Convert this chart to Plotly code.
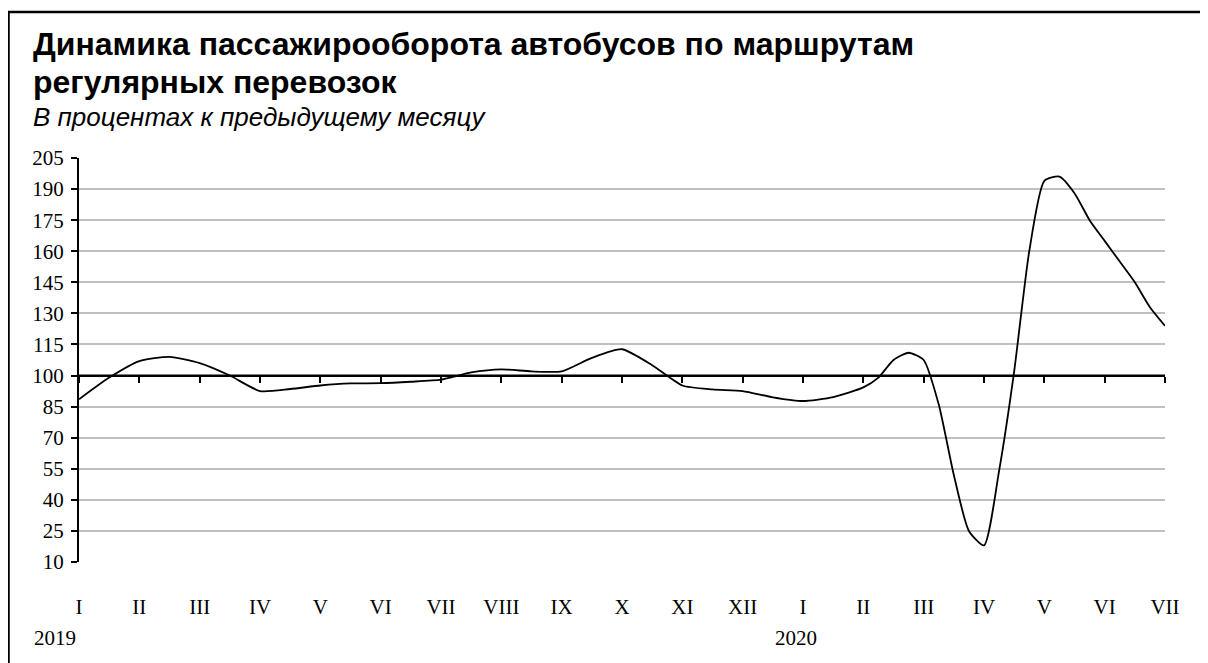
import plotly.graph_objects as go

# month index positions (0 = I 2019 ... 18 = VII 2020) and values, % to previous month
month_pos = [0, 0.5, 1, 1.5, 2, 2.5, 3, 3.5, 4, 4.5, 5, 5.5, 6, 6.5, 7, 7.5, 8, 8.5, 9,
             9.5, 10, 10.5, 11, 11.5, 12, 12.5, 13, 13.25, 13.5, 13.75, 14, 14.25, 14.5,
             14.75, 15, 15.25, 15.5, 15.75, 16, 16.25, 16.5, 16.75, 17, 17.25, 17.5, 17.75, 18]
values = [88.5, 99, 107, 109, 106, 100, 92.5, 93.5, 95.2, 96.2, 96.3, 97, 98, 101.5, 103, 102, 102, 108.5, 112.7,
          105, 95.2, 93.3, 92.5, 89.5, 87.7, 89.6, 94.3, 99, 107.5, 111, 107.5, 86, 52,
          25, 18, 54, 102, 160, 194, 196, 188, 175, 165, 155, 145, 133, 124]

tick_pos = list(range(19))
tick_labels = ["I", "II", "III", "IV", "V", "VI", "VII", "VIII", "IX", "X", "XI", "XII",
               "I", "II", "III", "IV", "V", "VI", "VII"]
years = ["2019", "2020"]
y_ticks = list(range(10, 206, 15))

title_lines = ["Динамика пассажирооборота автобусов по маршрутам", "регулярных перевозок"]
subtitle = "В процентах к предыдущему месяцу"

W, H = 1200, 655
L, R, T, B = 71, 43, 150, 101
pw, ph = W - L - R, H - T - B

def px_x(p):
    return (p - L) / pw

def px_y(p):
    return (H - B - p) / ph

fig = go.Figure()
fig.add_trace(go.Scatter(x=month_pos, y=values, mode="lines",
                         line=dict(color="black", width=1.8, shape="spline", smoothing=0.6),
                         hoverinfo="skip", showlegend=False))
# baseline (100%) axis carrier
fig.add_trace(go.Scatter(x=[0, 18], y=[100, 100], xaxis="x2", mode="lines",
                         line=dict(color="black", width=2), hoverinfo="skip", showlegend=False))

serif = "Liberation Serif, Times New Roman, serif"
sans = "Liberation Sans, Arial, sans-serif"
fig.update_layout(
    width=W, height=H,
    margin=dict(l=L, r=R, t=T, b=B),
    plot_bgcolor="white", paper_bgcolor="white",
    xaxis=dict(range=[0, 18], tickvals=tick_pos, ticktext=tick_labels, showline=False,
               showgrid=False, zeroline=False, ticks="", ticklabelstandoff=30,
               tickfont=dict(family=serif, size=21, color="black")),
    xaxis2=dict(range=[0, 18], overlaying="x", anchor="free", position=(100 - 10) / 195,
                side="bottom", tickvals=tick_pos, showticklabels=False, ticks="outside",
                ticklen=6, tickwidth=2, tickcolor="black", showline=True, linecolor="black",
                linewidth=2, showgrid=False, zeroline=False),
    yaxis=dict(range=[10, 205], tickvals=y_ticks, showline=True, linecolor="black", linewidth=2,
               ticks="outside", ticklen=6, tickwidth=2, tickcolor="black", ticklabelstandoff=3,
               showgrid=True, gridcolor="#c0c0c0", gridwidth=2, zeroline=False,
               tickfont=dict(family=serif, size=21, color="black")),
)

fig.add_annotation(text="<b>" + title_lines[0] + "</b>", xref="paper", yref="paper",
                   x=px_x(23), y=px_y(36), xanchor="left", yanchor="middle",
                   showarrow=False, font=dict(family=sans, size=32, color="black"))
fig.add_annotation(text="<b>" + title_lines[1] + "</b>", xref="paper", yref="paper",
                   x=px_x(23), y=px_y(74), xanchor="left", yanchor="middle",
                   showarrow=False, font=dict(family=sans, size=32, color="black"))
fig.add_annotation(text="<i>" + subtitle + "</i>", xref="paper", yref="paper",
                   x=px_x(23), y=px_y(109), xanchor="left", yanchor="middle",
                   showarrow=False, font=dict(family=sans, size=26, color="black"))
fig.add_annotation(text=years[0], xref="paper", yref="paper", x=px_x(47), y=px_y(630),
                   xanchor="center", yanchor="middle", showarrow=False,
                   font=dict(family=serif, size=21, color="black"))
fig.add_annotation(text=years[1], xref="paper", yref="paper", x=px_x(788), y=px_y(630),
                   xanchor="center", yanchor="middle", showarrow=False,
                   font=dict(family=serif, size=21, color="black"))

# outer frame
fig.add_shape(type="rect", xref="paper", yref="paper", x0=px_x(0.5), x1=px_x(1230),
              y0=px_y(700), y1=px_y(4), line=dict(color="black", width=2.5), layer="below")

fig.write_html("out.html")
